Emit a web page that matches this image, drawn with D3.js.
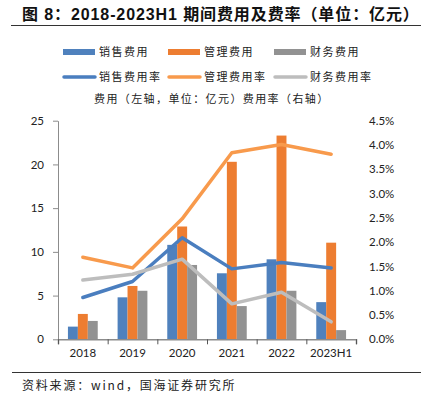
<!DOCTYPE html>
<html>
<head>
<meta charset="utf-8">
<script src="https://cdn.jsdelivr.net/npm/d3@7"></script>
<style>
  body { margin: 0; background: #fff; }
  svg { display: block; }
</style>
</head>
<body>
<script>
// data
var categories = ["2018", "2019", "2020", "2021", "2022", "2023H1"];
var salesExp = [1.45, 4.8, 10.8, 7.55, 9.15, 4.25];
var adminExp = [2.9, 6.1, 12.9, 20.3, 23.3, 11.05];
var finExp = [2.1, 5.55, 8.5, 3.8, 5.55, 1.05];
var salesRate = [0.0086, 0.0119, 0.0209, 0.0145, 0.0158, 0.0147];
var adminRate = [0.0169, 0.0147, 0.0248, 0.0384, 0.0401, 0.0381];
var finRate = [0.0122, 0.0134, 0.0165, 0.0073, 0.0097, 0.0036];
var leftTicks = [0, 5, 10, 15, 20, 25];
var rightTicks = [0, 0.005, 0.01, 0.015, 0.02, 0.025, 0.03, 0.035, 0.04, 0.045];

var barNames = ["销售费用", "管理费用", "财务费用"];
var lineNames = ["销售费用率", "管理费用率", "财务费用率"];
var barColors = ["#4f81bd", "#ed7d31", "#929292"];
var lineColors = ["#4a7ebf", "#f89a4c", "#bdbdbd"];

var W = 421, H = 393;
var cjk = "'Noto Sans CJK SC', sans-serif";
var num = "Lato, 'Liberation Sans', sans-serif";

var svg = d3.select("body").append("svg")
    .attr("width", W)
    .attr("height", H);

// title
svg.append("text")
    .attr("x", 22).attr("y", 20)
    .style("font-family", "'Liberation Sans', 'Noto Sans CJK SC', sans-serif")
    .style("font-weight", "bold")
    .style("font-size", "16px")
    .style("letter-spacing", "0.9px")
    .attr("fill", "#111")
    .text("图 8：2018-2023H1 期间费用及费率（单位：亿元）");
svg.append("line")
    .attr("x1", 11).attr("x2", 421).attr("y1", 25.5).attr("y2", 25.5)
    .attr("stroke", "#333").attr("stroke-width", 1);

// scales
var x = d3.scaleBand().domain(categories).range([58, 356]);
var inner = d3.scaleBand().domain(barNames).range([x.bandwidth() * 0.2, x.bandwidth() * 0.8]);
var yL = d3.scaleLinear().domain([0, 25]).range([339.3, 120.7]);
var yR = d3.scaleLinear().domain([0, 0.045]).range([339.3, 120.7]);

// bars
var barSeries = [salesExp, adminExp, finExp];
barSeries.forEach(function(vals, k) {
    svg.append("g").selectAll("rect")
        .data(vals)
        .enter()
        .append("rect")
        .attr("x", function(d, i) { return x(categories[i]) + inner(barNames[k]); })
        .attr("y", function(d) { return yL(d); })
        .attr("width", inner.bandwidth())
        .attr("height", function(d) { return yL(0) - yL(d); })
        .attr("fill", barColors[k]);
});

// lines
var line = d3.line()
    .x(function(d, i) { return x(categories[i]) + x.bandwidth() / 2; })
    .y(function(d) { return yR(d); });
[salesRate, adminRate, finRate].forEach(function(vals, k) {
    svg.append("path")
        .datum(vals)
        .attr("d", line)
        .attr("fill", "none")
        .attr("stroke", lineColors[k])
        .attr("stroke-width", 3.5)
        .attr("stroke-linejoin", "round")
        .attr("stroke-linecap", "round");
});

// left axis
var gL = svg.append("g")
    .attr("transform", "translate(58,0)")
    .call(d3.axisLeft(yL).tickValues(leftTicks).tickSize(5).tickSizeOuter(0).tickPadding(9));
gL.select(".domain").attr("stroke", "#8c8c8c");
gL.selectAll(".tick line").attr("stroke", "#8c8c8c");
gL.selectAll("text").style("font-family", num).style("font-size", "11.5px").attr("fill", "#222");

// right axis (labels only)
var gR = svg.append("g")
    .attr("transform", "translate(356,0)")
    .call(d3.axisRight(yR).tickValues(rightTicks).tickSize(0).tickPadding(13)
        .tickFormat(d3.format(".1%")));
gR.select(".domain").remove();
gR.selectAll("text").style("font-family", num).style("font-size", "11.5px").attr("fill", "#222");

// bottom axis: boundary ticks
var edge = d3.scaleLinear().domain([0, categories.length]).range(x.range());
var gB = svg.append("g")
    .attr("transform", "translate(0," + yL(0) + ")")
    .call(d3.axisBottom(edge).tickValues(d3.range(categories.length + 1)).tickSize(5).tickFormat(""));
gB.select(".domain").attr("stroke", "#8c8c8c").attr("stroke-width", 1.5);
gB.selectAll(".tick line").attr("stroke", "#555");

var gX = svg.append("g")
    .attr("transform", "translate(0," + yL(0) + ")")
    .call(d3.axisBottom(x).tickSize(0).tickPadding(10));
gX.select(".domain").remove();
gX.selectAll("text").style("font-family", num).style("font-size", "11.5px").attr("fill", "#222");

// legend
var legX = [63, 168, 274];
barNames.forEach(function(name, k) {
    svg.append("rect")
        .attr("x", legX[k]).attr("y", 49).attr("width", 32).attr("height", 6)
        .attr("fill", barColors[k]);
    svg.append("text")
        .attr("x", legX[k] + 36).attr("y", 56)
        .style("font-family", cjk).style("font-size", "11px")
        .style("letter-spacing", "1.5px")
        .attr("fill", "#222")
        .text(name);
});
lineNames.forEach(function(name, k) {
    svg.append("line")
        .attr("x1", legX[k] + 1).attr("x2", legX[k] + 32)
        .attr("y1", 77).attr("y2", 77)
        .attr("stroke", lineColors[k]).attr("stroke-width", 3.5)
        .attr("stroke-linecap", "round");
    svg.append("text")
        .attr("x", legX[k] + 36).attr("y", 81)
        .style("font-family", cjk).style("font-size", "11px")
        .style("letter-spacing", "1.5px")
        .attr("fill", "#222")
        .text(name);
});
svg.append("text")
    .attr("x", 94).attr("y", 103)
    .style("font-family", cjk).style("font-size", "11px")
    .style("letter-spacing", "1.4px")
    .attr("fill", "#222")
    .text("费用（左轴，单位：亿元）费用率（右轴）");

// source
svg.append("line")
    .attr("x1", 12).attr("x2", 421).attr("y1", 372.5).attr("y2", 372.5)
    .attr("stroke", "#333").attr("stroke-width", 1);
svg.append("text")
    .attr("x", 22).attr("y", 390)
    .style("font-family", cjk).style("font-size", "12px")
    .style("letter-spacing", "1.8px")
    .attr("fill", "#222")
    .text("资料来源：wind，国海证券研究所");
</script>
</body>
</html>
